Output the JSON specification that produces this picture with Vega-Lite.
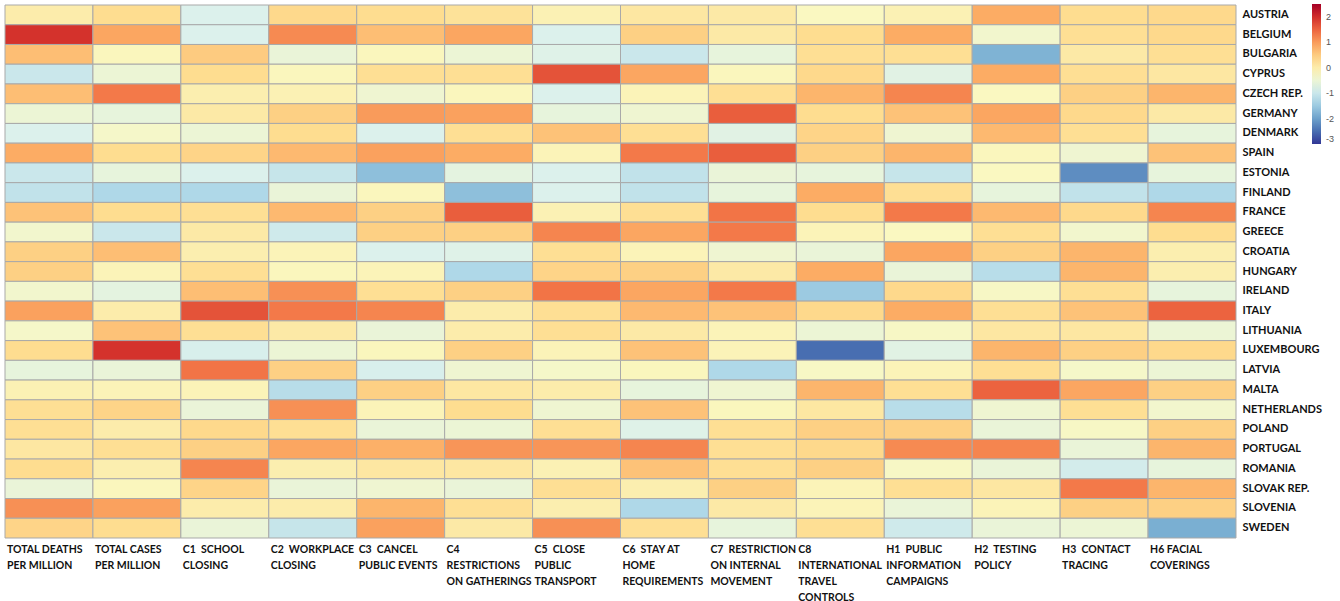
{
  "$schema": "https://vega.github.io/schema/vega-lite/v6.json",
  "autosize": {"type": "none"},
  "width": 1231,
  "height": 533,
  "padding": {"left": 5, "top": 5, "right": 104, "bottom": 63},
  "background": "white",
  "config": {"view": {"stroke": null}},
  "datasets": {
    "indicators": [
      {"key": "TD", "label": "TOTAL DEATHS|PER MILLION"},
      {"key": "TC", "label": "TOTAL CASES|PER MILLION"},
      {"key": "C1", "label": "C1\u00a0 SCHOOL|CLOSING"},
      {"key": "C2", "label": "C2\u00a0 WORKPLACE|CLOSING"},
      {"key": "C3", "label": "C3\u00a0 CANCEL|PUBLIC EVENTS"},
      {"key": "C4", "label": "C4|RESTRICTIONS|ON GATHERINGS"},
      {"key": "C5", "label": "C5\u00a0 CLOSE|PUBLIC|TRANSPORT"},
      {"key": "C6", "label": "C6\u00a0 STAY AT|HOME|REQUIREMENTS"},
      {"key": "C7", "label": "C7\u00a0 RESTRICTION|ON INTERNAL|MOVEMENT"},
      {"key": "C8", "label": "C8|INTERNATIONAL|TRAVEL|CONTROLS"},
      {"key": "H1", "label": "H1\u00a0 PUBLIC|INFORMATION|CAMPAIGNS"},
      {"key": "H2", "label": "H2\u00a0 TESTING|POLICY"},
      {"key": "H3", "label": "H3\u00a0 CONTACT|TRACING"},
      {"key": "H6", "label": "H6 FACIAL|COVERINGS"}
    ]
  },
  "data": {"values": [
    {"country":"AUSTRIA","key":"TD","value":0.0},{"country":"AUSTRIA","key":"TC","value":0.3},{"country":"AUSTRIA","key":"C1","value":-0.8},{"country":"AUSTRIA","key":"C2","value":0.35},{"country":"AUSTRIA","key":"C3","value":0.3},{"country":"AUSTRIA","key":"C4","value":0.2},{"country":"AUSTRIA","key":"C5","value":-0.1},{"country":"AUSTRIA","key":"C6","value":0.1},{"country":"AUSTRIA","key":"C7","value":0.05},{"country":"AUSTRIA","key":"C8","value":-0.25},{"country":"AUSTRIA","key":"H1","value":-0.1},{"country":"AUSTRIA","key":"H2","value":0.85},{"country":"AUSTRIA","key":"H3","value":0.3},{"country":"AUSTRIA","key":"H6","value":0.35},
    {"country":"BELGIUM","key":"TD","value":1.95},{"country":"BELGIUM","key":"TC","value":0.9},{"country":"BELGIUM","key":"C1","value":-0.8},{"country":"BELGIUM","key":"C2","value":1.15},{"country":"BELGIUM","key":"C3","value":0.65},{"country":"BELGIUM","key":"C4","value":0.9},{"country":"BELGIUM","key":"C5","value":-0.8},{"country":"BELGIUM","key":"C6","value":0.45},{"country":"BELGIUM","key":"C7","value":0.05},{"country":"BELGIUM","key":"C8","value":0.3},{"country":"BELGIUM","key":"H1","value":0.85},{"country":"BELGIUM","key":"H2","value":-0.4},{"country":"BELGIUM","key":"H3","value":0.25},{"country":"BELGIUM","key":"H6","value":0.35},
    {"country":"BULGARIA","key":"TD","value":0.65},{"country":"BULGARIA","key":"TC","value":-0.2},{"country":"BULGARIA","key":"C1","value":0.5},{"country":"BULGARIA","key":"C2","value":-0.55},{"country":"BULGARIA","key":"C3","value":-0.2},{"country":"BULGARIA","key":"C4","value":-0.5},{"country":"BULGARIA","key":"C5","value":-0.75},{"country":"BULGARIA","key":"C6","value":-1.0},{"country":"BULGARIA","key":"C7","value":-0.6},{"country":"BULGARIA","key":"C8","value":0.25},{"country":"BULGARIA","key":"H1","value":0.25},{"country":"BULGARIA","key":"H2","value":-1.8},{"country":"BULGARIA","key":"H3","value":0.05},{"country":"BULGARIA","key":"H6","value":0.25},
    {"country":"CYPRUS","key":"TD","value":-1.0},{"country":"CYPRUS","key":"TC","value":-0.5},{"country":"CYPRUS","key":"C1","value":0.3},{"country":"CYPRUS","key":"C2","value":-0.2},{"country":"CYPRUS","key":"C3","value":0.25},{"country":"CYPRUS","key":"C4","value":0.25},{"country":"CYPRUS","key":"C5","value":1.65},{"country":"CYPRUS","key":"C6","value":0.9},{"country":"CYPRUS","key":"C7","value":-0.2},{"country":"CYPRUS","key":"C8","value":0.35},{"country":"CYPRUS","key":"H1","value":-0.7},{"country":"CYPRUS","key":"H2","value":0.85},{"country":"CYPRUS","key":"H3","value":0.25},{"country":"CYPRUS","key":"H6","value":0.1},
    {"country":"CZECH REP.","key":"TD","value":0.65},{"country":"CZECH REP.","key":"TC","value":1.3},{"country":"CZECH REP.","key":"C1","value":-0.05},{"country":"CZECH REP.","key":"C2","value":-0.1},{"country":"CZECH REP.","key":"C3","value":-0.45},{"country":"CZECH REP.","key":"C4","value":-0.2},{"country":"CZECH REP.","key":"C5","value":-0.8},{"country":"CZECH REP.","key":"C6","value":-0.15},{"country":"CZECH REP.","key":"C7","value":0.25},{"country":"CZECH REP.","key":"C8","value":0.75},{"country":"CZECH REP.","key":"H1","value":1.2},{"country":"CZECH REP.","key":"H2","value":-0.25},{"country":"CZECH REP.","key":"H3","value":0.45},{"country":"CZECH REP.","key":"H6","value":0.75},
    {"country":"GERMANY","key":"TD","value":-0.5},{"country":"GERMANY","key":"TC","value":-0.6},{"country":"GERMANY","key":"C1","value":0.05},{"country":"GERMANY","key":"C2","value":0.45},{"country":"GERMANY","key":"C3","value":1.0},{"country":"GERMANY","key":"C4","value":0.95},{"country":"GERMANY","key":"C5","value":-0.6},{"country":"GERMANY","key":"C6","value":-0.45},{"country":"GERMANY","key":"C7","value":1.55},{"country":"GERMANY","key":"C8","value":0.3},{"country":"GERMANY","key":"H1","value":0.6},{"country":"GERMANY","key":"H2","value":0.9},{"country":"GERMANY","key":"H3","value":0.35},{"country":"GERMANY","key":"H6","value":0.05},
    {"country":"DENMARK","key":"TD","value":-0.8},{"country":"DENMARK","key":"TC","value":-0.35},{"country":"DENMARK","key":"C1","value":-0.5},{"country":"DENMARK","key":"C2","value":0.3},{"country":"DENMARK","key":"C3","value":-0.8},{"country":"DENMARK","key":"C4","value":0.25},{"country":"DENMARK","key":"C5","value":0.6},{"country":"DENMARK","key":"C6","value":0.25},{"country":"DENMARK","key":"C7","value":-0.7},{"country":"DENMARK","key":"C8","value":0.4},{"country":"DENMARK","key":"H1","value":-0.45},{"country":"DENMARK","key":"H2","value":0.7},{"country":"DENMARK","key":"H3","value":0.25},{"country":"DENMARK","key":"H6","value":-0.6},
    {"country":"SPAIN","key":"TD","value":0.85},{"country":"SPAIN","key":"TC","value":0.3},{"country":"SPAIN","key":"C1","value":0.4},{"country":"SPAIN","key":"C2","value":0.7},{"country":"SPAIN","key":"C3","value":0.95},{"country":"SPAIN","key":"C4","value":0.85},{"country":"SPAIN","key":"C5","value":-0.15},{"country":"SPAIN","key":"C6","value":1.3},{"country":"SPAIN","key":"C7","value":1.55},{"country":"SPAIN","key":"C8","value":0.45},{"country":"SPAIN","key":"H1","value":0.75},{"country":"SPAIN","key":"H2","value":-0.2},{"country":"SPAIN","key":"H3","value":-0.45},{"country":"SPAIN","key":"H6","value":0.6},
    {"country":"ESTONIA","key":"TD","value":-1.0},{"country":"ESTONIA","key":"TC","value":-0.6},{"country":"ESTONIA","key":"C1","value":-0.8},{"country":"ESTONIA","key":"C2","value":-1.05},{"country":"ESTONIA","key":"C3","value":-1.65},{"country":"ESTONIA","key":"C4","value":-0.65},{"country":"ESTONIA","key":"C5","value":-0.8},{"country":"ESTONIA","key":"C6","value":-1.1},{"country":"ESTONIA","key":"C7","value":-0.55},{"country":"ESTONIA","key":"C8","value":-0.6},{"country":"ESTONIA","key":"H1","value":-1.05},{"country":"ESTONIA","key":"H2","value":-0.25},{"country":"ESTONIA","key":"H3","value":-2.2},{"country":"ESTONIA","key":"H6","value":-0.6},
    {"country":"FINLAND","key":"TD","value":-1.1},{"country":"FINLAND","key":"TC","value":-1.3},{"country":"FINLAND","key":"C1","value":-1.3},{"country":"FINLAND","key":"C2","value":-0.55},{"country":"FINLAND","key":"C3","value":-0.2},{"country":"FINLAND","key":"C4","value":-1.65},{"country":"FINLAND","key":"C5","value":-0.8},{"country":"FINLAND","key":"C6","value":-1.1},{"country":"FINLAND","key":"C7","value":-0.6},{"country":"FINLAND","key":"C8","value":0.85},{"country":"FINLAND","key":"H1","value":0.25},{"country":"FINLAND","key":"H2","value":-0.6},{"country":"FINLAND","key":"H3","value":-1.1},{"country":"FINLAND","key":"H6","value":-1.3},
    {"country":"FRANCE","key":"TD","value":0.6},{"country":"FRANCE","key":"TC","value":0.3},{"country":"FRANCE","key":"C1","value":0.25},{"country":"FRANCE","key":"C2","value":0.7},{"country":"FRANCE","key":"C3","value":0.45},{"country":"FRANCE","key":"C4","value":1.55},{"country":"FRANCE","key":"C5","value":-0.1},{"country":"FRANCE","key":"C6","value":0.25},{"country":"FRANCE","key":"C7","value":1.35},{"country":"FRANCE","key":"C8","value":0.3},{"country":"FRANCE","key":"H1","value":1.3},{"country":"FRANCE","key":"H2","value":0.7},{"country":"FRANCE","key":"H3","value":0.35},{"country":"FRANCE","key":"H6","value":1.2},
    {"country":"GREECE","key":"TD","value":-0.4},{"country":"GREECE","key":"TC","value":-1.0},{"country":"GREECE","key":"C1","value":0.05},{"country":"GREECE","key":"C2","value":-0.95},{"country":"GREECE","key":"C3","value":0.45},{"country":"GREECE","key":"C4","value":0.45},{"country":"GREECE","key":"C5","value":1.2},{"country":"GREECE","key":"C6","value":0.9},{"country":"GREECE","key":"C7","value":1.3},{"country":"GREECE","key":"C8","value":-0.15},{"country":"GREECE","key":"H1","value":-0.25},{"country":"GREECE","key":"H2","value":0.25},{"country":"GREECE","key":"H3","value":-0.4},{"country":"GREECE","key":"H6","value":0.3},
    {"country":"CROATIA","key":"TD","value":0.45},{"country":"CROATIA","key":"TC","value":0.65},{"country":"CROATIA","key":"C1","value":-0.05},{"country":"CROATIA","key":"C2","value":-0.15},{"country":"CROATIA","key":"C3","value":-0.8},{"country":"CROATIA","key":"C4","value":-0.75},{"country":"CROATIA","key":"C5","value":0.25},{"country":"CROATIA","key":"C6","value":-0.15},{"country":"CROATIA","key":"C7","value":-0.45},{"country":"CROATIA","key":"C8","value":-0.55},{"country":"CROATIA","key":"H1","value":0.9},{"country":"CROATIA","key":"H2","value":0.45},{"country":"CROATIA","key":"H3","value":0.75},{"country":"CROATIA","key":"H6","value":-0.05},
    {"country":"HUNGARY","key":"TD","value":0.45},{"country":"HUNGARY","key":"TC","value":-0.15},{"country":"HUNGARY","key":"C1","value":0.25},{"country":"HUNGARY","key":"C2","value":-0.2},{"country":"HUNGARY","key":"C3","value":-0.15},{"country":"HUNGARY","key":"C4","value":-1.3},{"country":"HUNGARY","key":"C5","value":0.4},{"country":"HUNGARY","key":"C6","value":0.45},{"country":"HUNGARY","key":"C7","value":0.05},{"country":"HUNGARY","key":"C8","value":0.85},{"country":"HUNGARY","key":"H1","value":-0.55},{"country":"HUNGARY","key":"H2","value":-1.2},{"country":"HUNGARY","key":"H3","value":0.75},{"country":"HUNGARY","key":"H6","value":-0.05},
    {"country":"IRELAND","key":"TD","value":-0.4},{"country":"IRELAND","key":"TC","value":-0.65},{"country":"IRELAND","key":"C1","value":0.65},{"country":"IRELAND","key":"C2","value":1.1},{"country":"IRELAND","key":"C3","value":0.25},{"country":"IRELAND","key":"C4","value":0.45},{"country":"IRELAND","key":"C5","value":1.35},{"country":"IRELAND","key":"C6","value":0.9},{"country":"IRELAND","key":"C7","value":1.3},{"country":"IRELAND","key":"C8","value":-1.5},{"country":"IRELAND","key":"H1","value":0.35},{"country":"IRELAND","key":"H2","value":-0.3},{"country":"IRELAND","key":"H3","value":0.25},{"country":"IRELAND","key":"H6","value":-0.6},
    {"country":"ITALY","key":"TD","value":0.95},{"country":"ITALY","key":"TC","value":0.0},{"country":"ITALY","key":"C1","value":1.65},{"country":"ITALY","key":"C2","value":1.3},{"country":"ITALY","key":"C3","value":1.2},{"country":"ITALY","key":"C4","value":0.0},{"country":"ITALY","key":"C5","value":0.25},{"country":"ITALY","key":"C6","value":0.7},{"country":"ITALY","key":"C7","value":0.6},{"country":"ITALY","key":"C8","value":0.35},{"country":"ITALY","key":"H1","value":0.85},{"country":"ITALY","key":"H2","value":0.25},{"country":"ITALY","key":"H3","value":0.6},{"country":"ITALY","key":"H6","value":1.5},
    {"country":"LITHUANIA","key":"TD","value":-0.35},{"country":"LITHUANIA","key":"TC","value":0.6},{"country":"LITHUANIA","key":"C1","value":0.25},{"country":"LITHUANIA","key":"C2","value":0.05},{"country":"LITHUANIA","key":"C3","value":-0.55},{"country":"LITHUANIA","key":"C4","value":0.0},{"country":"LITHUANIA","key":"C5","value":0.25},{"country":"LITHUANIA","key":"C6","value":0.05},{"country":"LITHUANIA","key":"C7","value":-0.15},{"country":"LITHUANIA","key":"C8","value":-0.5},{"country":"LITHUANIA","key":"H1","value":-0.3},{"country":"LITHUANIA","key":"H2","value":0.1},{"country":"LITHUANIA","key":"H3","value":0.1},{"country":"LITHUANIA","key":"H6","value":-0.5},
    {"country":"LUXEMBOURG","key":"TD","value":0.3},{"country":"LUXEMBOURG","key":"TC","value":1.95},{"country":"LUXEMBOURG","key":"C1","value":-0.85},{"country":"LUXEMBOURG","key":"C2","value":-0.5},{"country":"LUXEMBOURG","key":"C3","value":-0.2},{"country":"LUXEMBOURG","key":"C4","value":0.45},{"country":"LUXEMBOURG","key":"C5","value":-0.15},{"country":"LUXEMBOURG","key":"C6","value":0.6},{"country":"LUXEMBOURG","key":"C7","value":-0.15},{"country":"LUXEMBOURG","key":"C8","value":-2.5},{"country":"LUXEMBOURG","key":"H1","value":-0.7},{"country":"LUXEMBOURG","key":"H2","value":0.75},{"country":"LUXEMBOURG","key":"H3","value":0.45},{"country":"LUXEMBOURG","key":"H6","value":0.35},
    {"country":"LATVIA","key":"TD","value":-0.6},{"country":"LATVIA","key":"TC","value":-0.55},{"country":"LATVIA","key":"C1","value":1.35},{"country":"LATVIA","key":"C2","value":0.45},{"country":"LATVIA","key":"C3","value":-0.85},{"country":"LATVIA","key":"C4","value":-0.45},{"country":"LATVIA","key":"C5","value":-0.35},{"country":"LATVIA","key":"C6","value":-0.2},{"country":"LATVIA","key":"C7","value":-1.3},{"country":"LATVIA","key":"C8","value":-0.3},{"country":"LATVIA","key":"H1","value":-0.15},{"country":"LATVIA","key":"H2","value":0.25},{"country":"LATVIA","key":"H3","value":-0.35},{"country":"LATVIA","key":"H6","value":-0.5},
    {"country":"MALTA","key":"TD","value":-0.1},{"country":"MALTA","key":"TC","value":-0.15},{"country":"MALTA","key":"C1","value":-0.15},{"country":"MALTA","key":"C2","value":-1.2},{"country":"MALTA","key":"C3","value":0.45},{"country":"MALTA","key":"C4","value":0.1},{"country":"MALTA","key":"C5","value":0.0},{"country":"MALTA","key":"C6","value":-0.6},{"country":"MALTA","key":"C7","value":-0.45},{"country":"MALTA","key":"C8","value":0.75},{"country":"MALTA","key":"H1","value":0.25},{"country":"MALTA","key":"H2","value":1.5},{"country":"MALTA","key":"H3","value":0.9},{"country":"MALTA","key":"H6","value":0.45},
    {"country":"NETHERLANDS","key":"TD","value":0.25},{"country":"NETHERLANDS","key":"TC","value":0.4},{"country":"NETHERLANDS","key":"C1","value":-0.55},{"country":"NETHERLANDS","key":"C2","value":1.1},{"country":"NETHERLANDS","key":"C3","value":-0.15},{"country":"NETHERLANDS","key":"C4","value":0.3},{"country":"NETHERLANDS","key":"C5","value":-0.45},{"country":"NETHERLANDS","key":"C6","value":0.6},{"country":"NETHERLANDS","key":"C7","value":-0.2},{"country":"NETHERLANDS","key":"C8","value":0.1},{"country":"NETHERLANDS","key":"H1","value":-1.2},{"country":"NETHERLANDS","key":"H2","value":-0.45},{"country":"NETHERLANDS","key":"H3","value":0.25},{"country":"NETHERLANDS","key":"H6","value":-0.4},
    {"country":"POLAND","key":"TD","value":0.25},{"country":"POLAND","key":"TC","value":0.0},{"country":"POLAND","key":"C1","value":0.35},{"country":"POLAND","key":"C2","value":0.25},{"country":"POLAND","key":"C3","value":-0.55},{"country":"POLAND","key":"C4","value":-0.5},{"country":"POLAND","key":"C5","value":0.25},{"country":"POLAND","key":"C6","value":-0.75},{"country":"POLAND","key":"C7","value":0.25},{"country":"POLAND","key":"C8","value":0.45},{"country":"POLAND","key":"H1","value":0.45},{"country":"POLAND","key":"H2","value":-0.55},{"country":"POLAND","key":"H3","value":-0.3},{"country":"POLAND","key":"H6","value":0.45},
    {"country":"PORTUGAL","key":"TD","value":0.1},{"country":"PORTUGAL","key":"TC","value":0.25},{"country":"PORTUGAL","key":"C1","value":0.45},{"country":"PORTUGAL","key":"C2","value":0.9},{"country":"PORTUGAL","key":"C3","value":0.8},{"country":"PORTUGAL","key":"C4","value":1.05},{"country":"PORTUGAL","key":"C5","value":1.05},{"country":"PORTUGAL","key":"C6","value":1.2},{"country":"PORTUGAL","key":"C7","value":0.25},{"country":"PORTUGAL","key":"C8","value":0.35},{"country":"PORTUGAL","key":"H1","value":1.15},{"country":"PORTUGAL","key":"H2","value":1.2},{"country":"PORTUGAL","key":"H3","value":-0.55},{"country":"PORTUGAL","key":"H6","value":0.75},
    {"country":"ROMANIA","key":"TD","value":0.3},{"country":"ROMANIA","key":"TC","value":-0.05},{"country":"ROMANIA","key":"C1","value":1.2},{"country":"ROMANIA","key":"C2","value":-0.05},{"country":"ROMANIA","key":"C3","value":0.1},{"country":"ROMANIA","key":"C4","value":0.1},{"country":"ROMANIA","key":"C5","value":-0.1},{"country":"ROMANIA","key":"C6","value":0.6},{"country":"ROMANIA","key":"C7","value":0.25},{"country":"ROMANIA","key":"C8","value":0.45},{"country":"ROMANIA","key":"H1","value":-0.3},{"country":"ROMANIA","key":"H2","value":-0.55},{"country":"ROMANIA","key":"H3","value":-0.9},{"country":"ROMANIA","key":"H6","value":-0.6},
    {"country":"SLOVAK REP.","key":"TD","value":-0.55},{"country":"SLOVAK REP.","key":"TC","value":-0.2},{"country":"SLOVAK REP.","key":"C1","value":0.4},{"country":"SLOVAK REP.","key":"C2","value":-0.55},{"country":"SLOVAK REP.","key":"C3","value":-0.45},{"country":"SLOVAK REP.","key":"C4","value":-0.55},{"country":"SLOVAK REP.","key":"C5","value":0.25},{"country":"SLOVAK REP.","key":"C6","value":-0.05},{"country":"SLOVAK REP.","key":"C7","value":0.45},{"country":"SLOVAK REP.","key":"C8","value":-0.15},{"country":"SLOVAK REP.","key":"H1","value":0.25},{"country":"SLOVAK REP.","key":"H2","value":0.1},{"country":"SLOVAK REP.","key":"H3","value":1.3},{"country":"SLOVAK REP.","key":"H6","value":0.75},
    {"country":"SLOVENIA","key":"TD","value":1.1},{"country":"SLOVENIA","key":"TC","value":0.95},{"country":"SLOVENIA","key":"C1","value":0.0},{"country":"SLOVENIA","key":"C2","value":0.0},{"country":"SLOVENIA","key":"C3","value":0.75},{"country":"SLOVENIA","key":"C4","value":0.25},{"country":"SLOVENIA","key":"C5","value":-0.05},{"country":"SLOVENIA","key":"C6","value":-1.3},{"country":"SLOVENIA","key":"C7","value":0.05},{"country":"SLOVENIA","key":"C8","value":-0.15},{"country":"SLOVENIA","key":"H1","value":-0.55},{"country":"SLOVENIA","key":"H2","value":-0.15},{"country":"SLOVENIA","key":"H3","value":0.45},{"country":"SLOVENIA","key":"H6","value":0.45},
    {"country":"SWEDEN","key":"TD","value":0.4},{"country":"SWEDEN","key":"TC","value":0.3},{"country":"SWEDEN","key":"C1","value":-0.55},{"country":"SWEDEN","key":"C2","value":-1.05},{"country":"SWEDEN","key":"C3","value":0.95},{"country":"SWEDEN","key":"C4","value":0.05},{"country":"SWEDEN","key":"C5","value":1.1},{"country":"SWEDEN","key":"C6","value":0.25},{"country":"SWEDEN","key":"C7","value":-0.6},{"country":"SWEDEN","key":"C8","value":0.25},{"country":"SWEDEN","key":"H1","value":-0.95},{"country":"SWEDEN","key":"H2","value":-0.55},{"country":"SWEDEN","key":"H3","value":-0.5},{"country":"SWEDEN","key":"H6","value":-1.85}
  ]},
  "transform": [
    {"lookup": "key", "from": {"data": {"name": "indicators"}, "key": "key", "fields": ["label"]}}
  ],
  "mark": {"type": "rect", "stroke": "#a9a9a9", "strokeWidth": 1},
  "encoding": {
    "x": {
      "field": "label", "type": "nominal", "sort": null,
      "scale": {"paddingInner": 0, "paddingOuter": 0},
      "axis": {
        "orient": "bottom", "title": null, "labelAngle": 0, "ticks": false, "domain": false,
        "labelAlign": "left", "labelBaseline": "top", "labelPadding": 6, "labelOffset": -42,
        "labelFont": "Lato", "labelFontSize": 10.5, "labelFontWeight": "bold", "labelColor": "#111111",
        "labelLineHeight": 16, "labelLimit": 0, "labelOverlap": false, "labelBound": false, "labelFlush": false,
        "labelExpr": "split(datum.label, '|')"
      }
    },
    "y": {
      "field": "country", "type": "nominal", "sort": null,
      "scale": {"paddingInner": 0, "paddingOuter": 0},
      "axis": {
        "orient": "right", "title": null, "ticks": false, "domain": false,
        "labelAlign": "left", "labelPadding": 6, "labelFont": "Lato", "labelFontSize": 11,
        "labelFontWeight": "bold", "labelColor": "#111111", "labelLimit": 0
      }
    },
    "color": {
      "field": "value", "type": "quantitative",
      "scale": {"scheme": "redyellowblue", "reverse": true, "domain": [-3, 2.5]},
      "legend": {
        "title": null, "orient": "none", "legendX": 1307, "legendY": -1, "direction": "vertical",
        "gradientLength": 140, "gradientThickness": 9, "values": [2, 1, 0, -1, -2, -3],
        "labelFontSize": 9, "labelColor": "#555555", "labelOffset": 5,
        "labelExpr": "datum.value < 0 ? '-' + abs(datum.value) : '' + datum.value"
      }
    }
  }
}
